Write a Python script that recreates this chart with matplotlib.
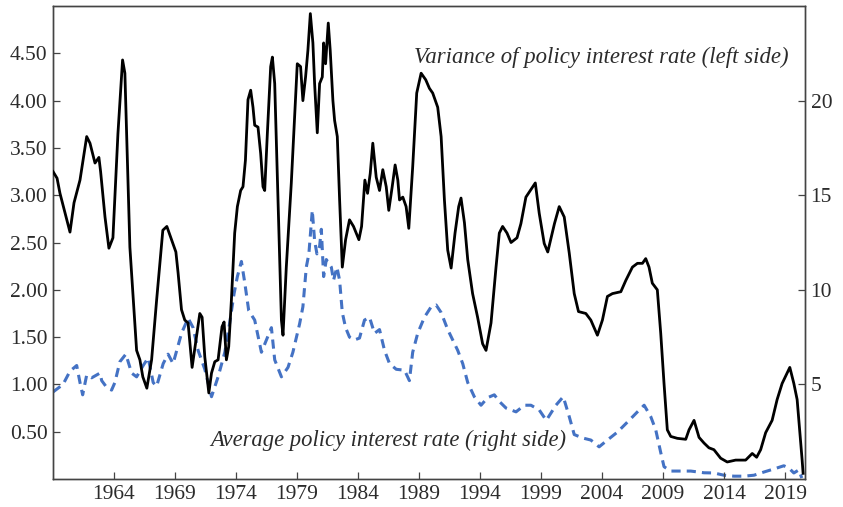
import numpy as np
import matplotlib.pyplot as plt

plt.rcParams['font.family'] = ['Liberation Serif', 'DejaVu Serif']

# variance of policy interest rate (left axis)
var_years = [1959.00, 1959.33, 1959.57, 1960.39, 1960.72, 1961.21, 1961.76, 1962.03, 1962.44, 1962.76,
             1962.90, 1963.26, 1963.58, 1963.91, 1964.32, 1964.70, 1964.89, 1965.30, 1965.85, 1966.12,
             1966.36, 1966.69, 1967.08, 1967.49, 1968.00, 1968.33, 1968.71, 1969.07, 1969.25, 1969.53,
             1969.80, 1970.07, 1970.40, 1970.68, 1971.03, 1971.22, 1971.44, 1971.77, 1971.99, 1972.26,
             1972.53, 1972.85, 1973.02, 1973.21, 1973.40, 1973.62, 1973.89, 1974.11, 1974.38, 1974.57,
             1974.77, 1974.98, 1975.20, 1975.39, 1975.53, 1975.80, 1976.02, 1976.21, 1976.35, 1976.57,
             1976.84, 1976.98, 1977.17, 1977.44, 1977.72, 1977.85, 1978.12, 1978.53, 1978.80, 1979.02,
             1979.29, 1979.48, 1979.70, 1979.89, 1980.09, 1980.30, 1980.44, 1980.66, 1980.85, 1981.07,
             1981.18, 1981.34, 1981.56, 1981.72, 1981.94, 1982.08, 1982.30, 1982.49, 1982.71, 1982.98,
             1983.30, 1983.63, 1984.07, 1984.29, 1984.56, 1984.78, 1985.00, 1985.21, 1985.49, 1985.76,
             1986.03, 1986.31, 1986.52, 1986.80, 1987.04, 1987.26, 1987.40, 1987.67, 1987.94, 1988.16,
             1988.48, 1988.81, 1989.17, 1989.55, 1989.85, 1990.12, 1990.53, 1990.81, 1991.08, 1991.35,
             1991.63, 1991.95, 1992.25, 1992.44, 1992.72, 1992.99, 1993.39, 1993.80, 1994.21, 1994.49,
             1994.90, 1995.31, 1995.58, 1995.85, 1996.21, 1996.54, 1997.03, 1997.35, 1997.76, 1998.12,
             1998.53, 1998.85, 1999.26, 1999.55, 2000.10, 2000.49, 2000.90, 2001.31, 2001.72, 2002.07,
             2002.67, 2003.08, 2003.62, 2004.03, 2004.44, 2004.85, 2005.54, 2005.95, 2006.49, 2006.90,
             2007.31, 2007.58, 2007.85, 2008.12, 2008.35, 2008.53, 2008.81, 2009.08, 2009.35, 2009.63,
             2010.17, 2010.86, 2011.13, 2011.54, 2011.95, 2012.36, 2012.76, 2013.17, 2013.72, 2014.26,
             2014.95, 2015.77, 2016.31, 2016.67, 2017.00, 2017.41, 2017.94, 2018.35, 2018.76, 2019.39,
             2019.72, 2019.99, 2020.40, 2020.48]
var_values = [3.25, 3.18, 3.02, 2.61, 2.92, 3.16, 3.62, 3.55, 3.34, 3.40,
              3.25, 2.77, 2.44, 2.55, 3.65, 4.43, 4.29, 2.45, 1.36, 1.26,
              1.08, 0.96, 1.26, 1.89, 2.63, 2.67, 2.53, 2.40, 2.18, 1.79,
              1.68, 1.65, 1.18, 1.43, 1.75, 1.71, 1.29, 0.91, 1.12, 1.24,
              1.26, 1.61, 1.66, 1.26, 1.40, 1.89, 2.60, 2.88, 3.05, 3.09,
              3.37, 4.01, 4.11, 3.93, 3.74, 3.72, 3.44, 3.09, 3.05, 3.66,
              4.36, 4.46, 4.18, 2.95, 1.68, 1.52, 2.24, 3.13, 3.83, 4.39,
              4.36, 4.00, 4.25, 4.53, 4.92, 4.61, 4.18, 3.66, 4.18, 4.25,
              4.61, 4.39, 4.82, 4.53, 4.00, 3.79, 3.62, 2.95, 2.24, 2.53,
              2.74, 2.67, 2.53, 2.67, 3.16, 3.02, 3.23, 3.55, 3.19, 3.05,
              3.27, 3.09, 2.84, 3.09, 3.32, 3.16, 2.95, 2.98, 2.88, 2.65,
              3.30, 4.08, 4.29, 4.22, 4.13, 4.08, 3.93, 3.62, 2.95, 2.42,
              2.23, 2.60, 2.88, 2.97, 2.71, 2.32, 1.96, 1.71, 1.43, 1.36,
              1.65, 2.24, 2.60, 2.67, 2.60, 2.50, 2.55, 2.70, 2.98, 3.05,
              3.13, 2.81, 2.49, 2.40, 2.70, 2.88, 2.77, 2.39, 1.96, 1.77,
              1.75, 1.68, 1.52, 1.68, 1.93, 1.96, 1.98, 2.10, 2.24, 2.28,
              2.28, 2.33, 2.24, 2.07, 2.03, 2.00, 1.54, 1.01, 0.52, 0.45,
              0.43, 0.42, 0.52, 0.62, 0.44, 0.38, 0.33, 0.31, 0.22, 0.18,
              0.20, 0.20, 0.27, 0.23, 0.31, 0.49, 0.62, 0.84, 1.01, 1.18,
              1.01, 0.84, 0.20, 0.06]

# average policy interest rate (right axis)
avg_years = [1959.00, 1959.82, 1960.39, 1960.94, 1961.21, 1961.43, 1961.76, 1962.17, 1962.85, 1962.99,
             1963.39, 1963.80, 1964.07, 1964.48, 1964.97, 1965.44, 1965.85, 1966.39, 1966.80, 1967.21,
             1967.49, 1968.03, 1968.43, 1968.84, 1969.53, 1970.07, 1970.48, 1970.89, 1971.44, 1971.99,
             1972.53, 1973.08, 1973.48, 1973.84, 1974.11, 1974.44, 1974.71, 1975.04, 1975.53, 1976.08,
             1976.49, 1976.90, 1977.17, 1977.72, 1978.26, 1978.66, 1979.21, 1979.48, 1979.76, 1979.97,
             1980.25, 1980.44, 1980.63, 1980.85, 1980.99, 1981.18, 1981.40, 1981.81, 1981.99, 1982.27,
             1982.49, 1982.71, 1982.98, 1983.30, 1983.71, 1984.12, 1984.53, 1984.94, 1985.35, 1985.76,
             1986.17, 1986.58, 1987.13, 1987.81, 1988.21, 1988.48, 1988.89, 1989.44, 1989.99, 1990.40,
             1990.81, 1991.35, 1991.76, 1992.17, 1992.58, 1992.99, 1993.53, 1994.08, 1994.62, 1995.17,
             1995.58, 1996.13, 1996.95, 1997.63, 1998.17, 1998.85, 1999.43, 2000.22, 2000.82, 2001.31,
             2001.72, 2002.40, 2003.08, 2003.76, 2004.44, 2005.26, 2006.22, 2006.90, 2007.45, 2007.99,
             2008.40, 2008.81, 2009.08, 2009.63, 2011.27, 2012.36, 2013.17, 2013.99, 2014.81, 2015.63,
             2016.45, 2017.27, 2018.08, 2018.90, 2019.31, 2019.72, 2020.13, 2020.37]
avg_values = [4.6, 5.0, 5.7, 6.0, 5.1, 4.45, 5.5, 5.35, 5.6, 5.2,
              4.85, 4.7, 5.1, 6.2, 6.6, 5.6, 5.4, 6.0, 6.4, 5.1,
              4.9, 6.1, 6.6, 6.1, 7.7, 8.5, 8.0, 6.8, 5.8, 4.35,
              5.4, 6.7, 8.25, 9.8, 10.7, 11.5, 10.4, 8.9, 8.4, 6.7,
              7.35, 8.0, 6.3, 5.4, 5.9, 6.7, 8.2, 9.1, 11.2, 11.9,
              14.2, 12.6, 11.9, 12.3, 13.2, 10.7, 11.6, 11.2, 10.5, 11.2,
              10.5, 8.8, 8.0, 7.5, 7.35, 7.45, 8.4, 8.55, 7.7, 7.9,
              6.8, 6.1, 5.8, 5.75, 5.2, 6.7, 7.7, 8.55, 9.1, 9.2,
              8.8, 7.9, 7.35, 6.8, 6.1, 5.1, 4.35, 3.9, 4.3, 4.45,
              4.1, 3.75, 3.55, 3.9, 3.9, 3.65, 3.1, 3.9, 4.35, 3.3,
              2.35, 2.17, 2.06, 1.7, 2.06, 2.48, 3.1, 3.55, 3.9, 3.3,
              2.6, 1.4, 0.65, 0.42, 0.42, 0.33, 0.32, 0.2, 0.15, 0.15,
              0.2, 0.37, 0.53, 0.7, 0.58, 0.32, 0.48, 0.05]

year_ticks = list(range(1964, 2020, 5))
left_ticks = [0.5, 1.0, 1.5, 2.0, 2.5, 3.0, 3.5, 4.0, 4.5]
right_ticks = [5, 10, 15, 20]

spine_col = '#444444'
text_col = '#2b2b2b'

fig = plt.figure(figsize=(8.43, 5.07), dpi=100)
ax = fig.add_axes([0.0629, 0.0552, 0.8921, 0.9329])
ax2 = ax.twinx()

ax.plot(var_years, var_values, color='black', lw=2.0, zorder=3)
ax2.plot(avg_years, avg_values, color='#4472C4', lw=2.2, ls=(0, (3, 2)))

ax.set_xlim(1959, 2020.64)
ax.set_ylim(0, 5)
ax2.set_ylim(0, 25)
ax.set_zorder(ax2.get_zorder() + 1)
ax.patch.set_visible(False)

ax.set_xticks(year_ticks)
ax.set_yticks(left_ticks)
ax.set_yticklabels([f'{v:.2f}' for v in left_ticks])
ax2.set_yticks(right_ticks)

for a in (ax, ax2):
    for s in a.spines.values():
        s.set_color(spine_col)
        s.set_linewidth(1.0)
    a.tick_params(direction='in', length=5, width=0.9, color=spine_col,
                  labelsize=15.5, labelcolor=text_col, pad=4)
ax.tick_params(axis='x', pad=4)

ax.text(1988.6, 4.46, 'Variance of policy interest rate (left side)', style='italic',
        fontsize=16.4, color=text_col, ha='left', va='center')
ax.text(1971.85, 0.41, 'Average policy interest rate (right side)', style='italic',
        fontsize=16.3, color=text_col, ha='left', va='center')

fig.savefig('out.png', dpi=100)
